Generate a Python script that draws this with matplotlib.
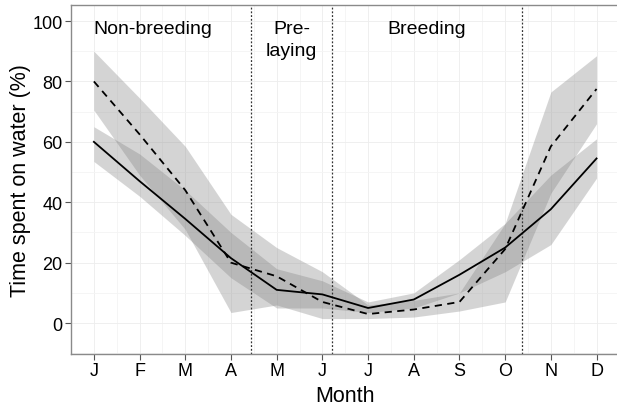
import matplotlib.pyplot as plt
import numpy as np

months = ["J", "F", "M", "A", "M", "J", "J", "A", "S", "O", "N", "D"]

# solid series with its interval
solid_mean = [60, 47, 34.5, 21.5, 11, 9.5, 5, 7.8, 16, 25, 37.7, 54.5]
solid_low = [53.5, 42, 29, 15, 5, 5, 3.5, 5, 10, 17, 26, 48]
solid_high = [65, 56, 44, 30, 18, 14, 7, 10, 21, 33, 49, 61]

# dashed series with its interval
dashed_mean = [80, 62.5, 44, 20, 15.5, 7, 3, 4.5, 7, 24.5, 58.5, 77.5]
dashed_low = [70.5, 49, 31, 3.5, 6, 1.5, 1.5, 2, 4, 7, 43, 66]
dashed_high = [90, 74.5, 58.5, 36, 25, 17, 6, 7.5, 10, 33, 76.5, 88.5]

period_breaks = [4.44, 6.21, 10.37]
period_labels = ["Non-breeding", "Pre-\nlaying", "Breeding"]
period_label_x = [2.28, 5.33, 8.29]

plt.rcParams["font.family"] = ["Liberation Sans", "DejaVu Sans"]

x = np.arange(1, len(months) + 1)

fig = plt.figure(figsize=(6.17, 4.10), dpi=100)
ax = fig.add_axes([0.1151, 0.134, 0.8888, 0.851])

# grid
for v in np.arange(0.5, 13, 0.5):
    ax.axvline(v, color="#f4f4f4" if v % 1 else "#ededed", lw=0.6, zorder=0)
for v in range(-10, 110, 10):
    ax.axhline(v, color="#f4f4f4" if v % 20 else "#ededed", lw=0.6, zorder=0)

ax.fill_between(x, dashed_low, dashed_high, color="#7f7f7f", alpha=0.33, lw=0, zorder=1)
ax.fill_between(x, solid_low, solid_high, color="#7f7f7f", alpha=0.33, lw=0, zorder=1)
ax.plot(x, solid_mean, color="black", lw=1.3, zorder=3)
ax.plot(x, dashed_mean, color="black", lw=1.3, ls=(0, (4, 3)), zorder=3)

for b in period_breaks:
    ax.axvline(b, color="#333333", lw=0.9, ls=(0, (1.5, 1.5)), zorder=2)
for lx, lab in zip(period_label_x, period_labels):
    ax.text(lx, 100.3, lab, ha="center", va="top", fontsize=14, linespacing=1.4)

ax.set_xlim(0.5, 12.5)
ax.set_ylim(-10.25, 105.25)
ax.set_xticks(x)
ax.set_xticklabels(months)
ax.set_yticks(range(0, 101, 20))
ax.tick_params(colors="#555555", labelcolor="black", labelsize=13, length=4, width=0.8, pad=2)
ax.set_xlabel("Month", fontsize=15.5, labelpad=4)
ax.set_ylabel("Time spent on water (%)", fontsize=15.5, labelpad=1)
for s in ax.spines.values():
    s.set_color("#8a8a8a")
    s.set_linewidth(1.0)

fig.savefig("out.png", dpi=100)
